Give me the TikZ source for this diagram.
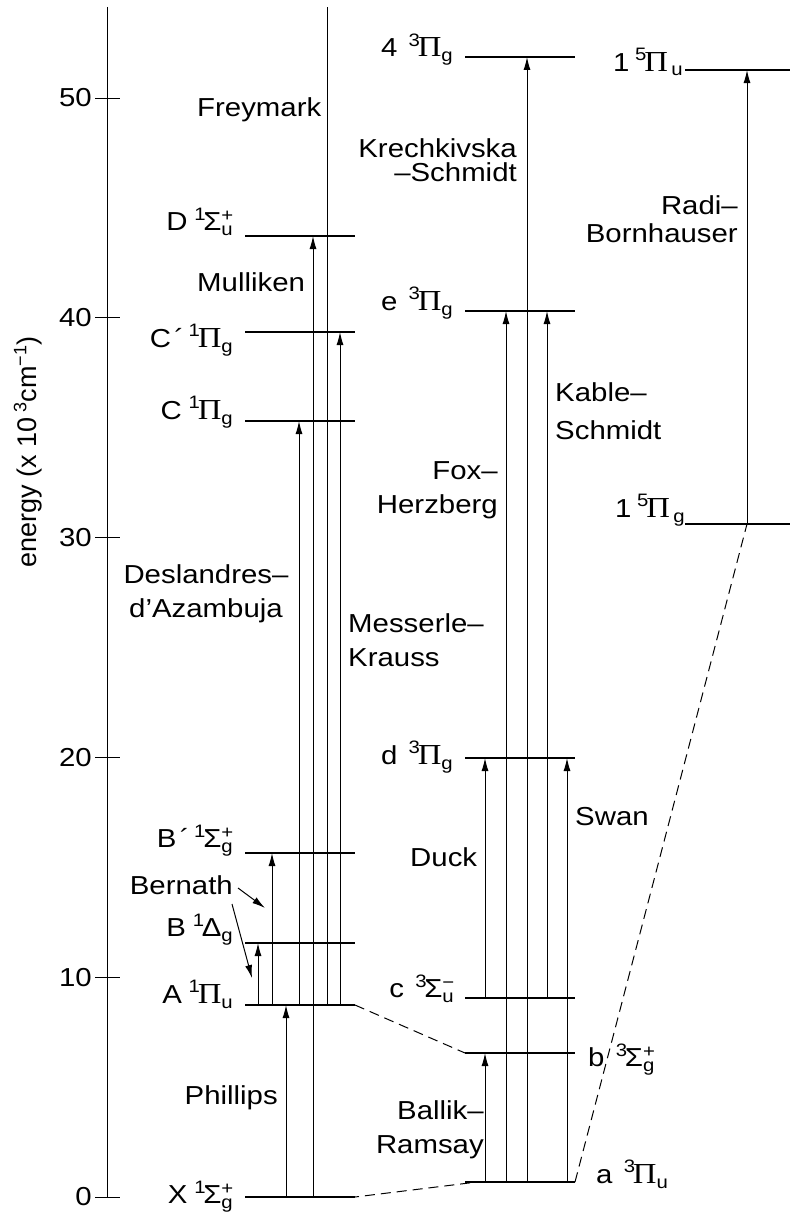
\documentclass[tikz,border=0pt]{standalone}
\usepackage{fontspec}
\setmainfont{Liberation Sans}
\newfontfamily\grfont{Liberation Serif}
\usetikzlibrary{arrows.meta}

\newcommand{\sm}{\fontsize{18}{18}\selectfont}
\newcommand{\Pg}{{\grfont\fontsize{29}{29}\selectfont Π}}
\newlength\grht
% term symbol: [gap] letter, multiplicity, Greek, sub, sup
\newcommand{\trm}[6][6pt]{\settoheight{\grht}{#4}%
  #2\hspace{#1}\raisebox{\dimexpr\grht-8pt\relax}{\sm #3}\hspace{-2pt}#4%
  \rlap{\raisebox{\dimexpr\grht-9pt\relax}{\sm #6}}\raisebox{-5pt}{\sm #5}}

\begin{document}
\begin{tikzpicture}[x=1pt,y=-1pt,
    txt/.style={inner sep=0pt,font=\fontsize{26}{34}\selectfont,xscale=1.13},
    lvl/.style={line width=1.3pt},
    ln/.style={line width=1pt},
    tr/.style={line width=1pt,-{Latex[length=13pt,width=7pt]}},
    dsh/.style={line width=1pt,dash pattern=on 10pt off 6pt}]
  \useasboundingbox (0,0) rectangle (790,1215);

  % energy axis
  \coordinate (top) at (107,7);
  \coordinate (bot) at (107,1197);
  \draw[ln] (top) -- (bot);
  \foreach \v in {0,10,...,50} {
    \draw[ln] (95,1197-21.98*\v) -- (120,1197-21.98*\v);
    \node[txt,anchor=east] (tick\v) at (92,1197-21.98*\v) {\v};
  }
  \node[inner sep=0pt,rotate=90,font=\fontsize{27}{27}\selectfont] (ylab) at (28,452)
    {energy (x 10\,\raisebox{10pt}{\sm 3}cm\raisebox{10pt}{\sm −1})};

  % levels
  \foreach \n/\x/\y/\w in {X/245/1197/110, A/245/1005/110, B/245/943/110, Bp/245/853/110,
      C/245/421/110, Cp/245/332/110, D/245/236/110,
      a/465/1182/110, b/465/1053/110, c/465/998/110, d/465/758/110, e/465/311/110, f/465/57/110,
      qg/685/524/105, qu/685/70/105} {
    \coordinate (\n) at (\x,\y);
    \coordinate (\n-r) at (\x+\w,\y);
    \draw[lvl] (\n) -- (\n-r);
  }

  % transitions
  \foreach \x/\lo/\hi in {258/A/B, 272/A/Bp, 286/X/A, 299/A/C, 313/X/D, 340/A/Cp,
      485/a/b, 485/c/d, 506/a/e, 527/a/f, 547/c/e, 567/a/d, 747/qg/qu}
    \draw[tr] (\x,0 |- \lo) -- (\x,0 |- \hi);
  \draw[ln] (327,0 |- A) -- (327,0 |- top);

  % correlations
  \draw[dsh] (A-r) -- (b);
  \draw[dsh,dash phase=6pt] (X-r) -- ([xshift=12pt]a);
  \draw[dsh] (a-r) -- (747,0 |- qg);

  % state labels
  \node[txt,anchor=base east] (lD) at (233,230) {\trm{D}{1}{Σ}{u}{+}};
  \node[txt,anchor=base east] (lCp) at (233,347) {\trm[4pt]{C\hspace{3pt}´}{1}{\Pg}{g}{}};
  \node[txt,anchor=base east] (lC) at (233,419) {\trm{C}{1}{\Pg}{g}{}};
  \node[txt,anchor=base east] (lBp) at (233,847) {\trm[4pt]{B\hspace{3pt}´}{1}{Σ}{g}{+}};
  \node[txt,anchor=base east] (lB) at (233,936) {\trm{B}{1}{Δ}{g}{}};
  \node[txt,anchor=base east] (lA) at (233,1003) {\trm{A}{1}{\Pg}{u}{}};
  \node[txt,anchor=base east] (lX) at (233,1203) {\trm{X}{1}{Σ}{g}{+}};
  \node[txt,anchor=base east] (lf) at (453,57) {\trm[10pt]{4}{3}{\Pg}{g}{}};
  \node[txt,anchor=base east] (le) at (453,310) {\trm[10pt]{e}{3}{\Pg}{g}{}};
  \node[txt,anchor=base east] (ld) at (453,764) {\trm[10pt]{d}{3}{\Pg}{g}{}};
  \node[txt,anchor=base east] (lc) at (454,997) {\trm[10pt]{c}{3}{Σ}{u}{−}};
  \node[txt,anchor=base west] (lb) at (588,1066) {\trm[10pt]{b}{3}{Σ}{g}{+}};
  \node[txt,anchor=base west] (la) at (596,1183) {\trm[10pt]{a}{3}{\Pg}{u}{}};
  \node[txt,anchor=base west] (lqu) at (613,71) {\trm[5pt]{1}{5}{\Pg}{\hspace{3pt}u}{}};
  \node[txt,anchor=base west] (lqg) at (615,517) {\trm[5pt]{1}{5}{\Pg}{\hspace{3pt}g}{}};

  % band systems
  \node[txt,anchor=west] (frey) at (197,110) {Freymark};
  \node[txt,anchor=west] (mull) at (197,282) {Mulliken};
  \node[txt,anchor=east] (bern) at (233,885) {Bernath};
  \node[txt,anchor=east] (phil) at (278,1098) {Phillips};
  \node[txt,align=center] (desl) at (206,594) {Deslandres–\\d’Azambuja};
  \node[txt,align=left,anchor=west] (mess) at (348,640) {Messerle–\\Krauss};
  \node[txt,align=right,anchor=east] (foxh) at (498,490) {Fox–\\Herzberg};
  \node[txt,align=left,anchor=west,font=\fontsize{26}{38}\selectfont] (kabl) at (555,411) {Kable–\\Schmidt};
  \node[txt,align=right,anchor=east,font=\fontsize{26}{24}\selectfont] (krec) at (517,160) {Krechkivska\\–Schmidt};
  \node[txt,align=right,anchor=east,font=\fontsize{26}{28}\selectfont] (radi) at (738,219) {Radi–\\Bornhauser};
  \node[txt,anchor=west] (duck) at (410,857) {Duck};
  \node[txt,anchor=west] (swan) at (575,817) {Swan};
  \node[txt,align=right,anchor=east] (ball) at (484,1130) {Ballik–\\Ramsay};

  \coordinate (bernB) at (265,908);
  \coordinate (bernA) at (252,978);
  \draw[tr] ([shift={(5,3)}]bern.east) -- (bernB);
  \draw[tr] ([shift={(-1,19)}]bern.east) -- (bernA);
\end{tikzpicture}
\end{document}
